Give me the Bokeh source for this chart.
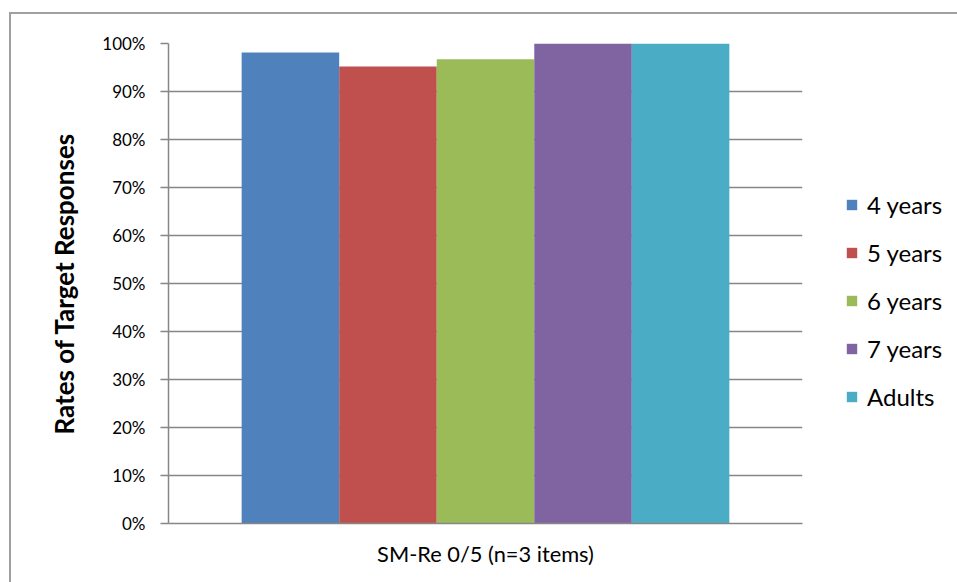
from bokeh.plotting import figure
from bokeh.layouts import row
from bokeh.models import FactorRange, Legend, LegendItem, NumeralTickFormatter, FixedTicker
from bokeh.transform import dodge
from bokeh.embed import file_html
from bokeh.resources import INLINE

# data
category = "SM-Re 0/5 (n=3 items)"
groups = ["4 years", "5 years", "6 years", "7 years", "Adults"]
rates = [0.981, 0.952, 0.967, 1.0, 1.0]
colors = ["#4F81BD", "#C0504D", "#9BBB59", "#8064A2", "#4BACC6"]
y_ticks = [0, 0.1, 0.2, 0.3, 0.4, 0.5, 0.6, 0.7, 0.8, 0.9, 1.0]

FONT = "Lato"
GRID = "#868686"

# bar layout inside the single category (gap width 30%)
gap = 0.30
cluster = 1.0 / (1.0 + gap)
bar_w = cluster / len(groups)

p = figure(
    x_range=FactorRange(category, range_padding=0),
    y_range=(0, 1),
    width=792, height=568,
    output_backend="svg", toolbar_location=None,
    min_border_left=157, min_border_right=1,
    min_border_top=29, min_border_bottom=59,
)

for i, (g, v, c) in enumerate(zip(groups, rates, colors)):
    off = (i - (len(groups) - 1) / 2) * bar_w
    p.vbar(x=dodge("x", off, range=p.x_range), top="top", width=bar_w,
           source={"x": [category], "top": [v]},
           fill_color=c, line_color=None)

p.outline_line_color = None
p.background_fill_color = "white"
p.border_fill_color = "white"

p.xgrid.grid_line_color = None
p.ygrid.grid_line_color = GRID
p.ygrid.grid_line_width = 1.5
p.ygrid.ticker = FixedTicker(ticks=y_ticks)

p.yaxis.ticker = FixedTicker(ticks=y_ticks)
p.yaxis.formatter = NumeralTickFormatter(format="0%")
p.yaxis.minor_tick_line_color = None
p.yaxis.major_tick_in = 0
p.yaxis.major_tick_out = 8
p.yaxis.major_tick_line_color = GRID
p.yaxis.major_tick_line_width = 1.5
p.yaxis.axis_line_color = GRID
p.yaxis.axis_line_width = 1.5
p.yaxis.major_label_text_font = FONT
p.yaxis.major_label_text_font_size = "17px"
p.yaxis.major_label_text_color = "black"
p.yaxis.major_label_standoff = 15
p.yaxis.axis_label = "Rates of Target Responses"
p.yaxis.axis_label_text_font = FONT
p.yaxis.axis_label_text_font_size = "26px"
p.yaxis.axis_label_text_font_style = "bold"
p.yaxis.axis_label_text_color = "black"
p.yaxis.axis_label_standoff = 19

p.xaxis.major_tick_line_color = None
p.xaxis.minor_tick_line_color = None
p.xaxis.axis_line_color = GRID
p.xaxis.axis_line_width = 1.5
p.xaxis.major_label_text_font = FONT
p.xaxis.major_label_text_font_size = "21.8px"
p.xaxis.major_label_text_color = "black"
p.xaxis.major_label_standoff = 10

# legend panel to the right of the plot area
lg = figure(
    width=154, height=568, x_range=(0, 1), y_range=(0, 1),
    x_axis_type=None, y_axis_type=None,
    output_backend="svg", toolbar_location=None,
    min_border=0,
)
lg.outline_line_color = None
lg.grid.grid_line_color = None
lg.background_fill_color = "white"
lg.border_fill_color = "white"

items = []
for g, v, c in zip(groups, rates, colors):
    # legend swatch only; the bar itself is drawn in the main plot
    r = lg.vbar(x=[0.5], top=[v], width=0.1, fill_color=c, line_color=None)
    r.visible = False
    items.append(LegendItem(label=g, renderers=[r]))

legend = Legend(
    items=items,
    location=(42, 112),
    label_text_font=FONT, label_text_font_size="24px", label_text_color="black",
    glyph_width=13, glyph_height=13, label_standoff=9, label_height=20,
    spacing=19, padding=0, margin=0,
    border_line_color=None, background_fill_alpha=0,
    inactive_fill_alpha=0,
)
lg.add_layout(legend, "center")

layout = row(p, lg)
layout.styles = {
    "margin-left": "9px", "margin-top": "12px",
    "border-left": "2px solid #a0a0a0", "border-top": "2px solid #a0a0a0",
}

open("out.html", "w").write(file_html(layout, INLINE))
